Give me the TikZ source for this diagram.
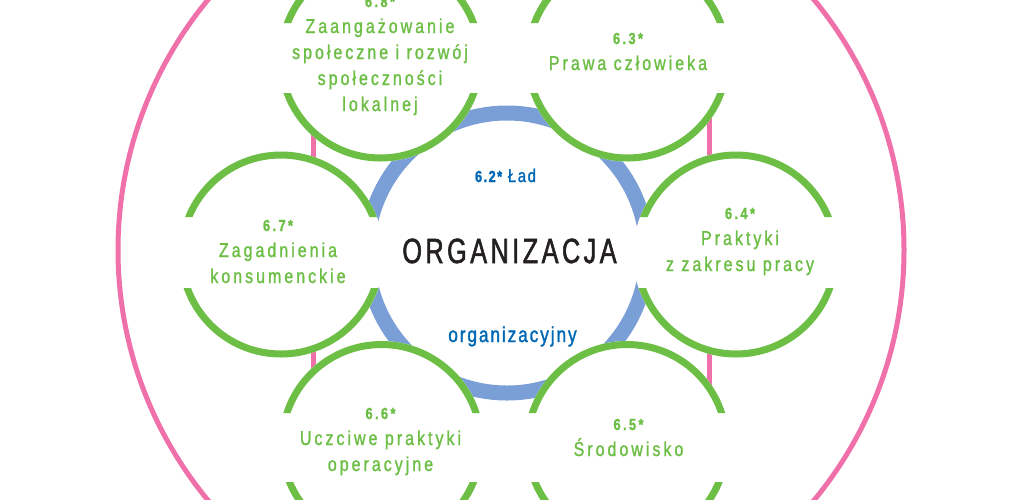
\documentclass[tikz,border=0pt]{standalone}
\usepackage{fontspec}
\setmainfont{Liberation Sans}
\newfontfamily\labelfont[FakeStretch=0.8,LetterSpace=15,FakeBold=1.2]{Liberation Sans}
\newfontfamily\titlefont[FakeStretch=0.72,LetterSpace=10,FakeBold=1.5]{Liberation Sans}
\newfontfamily\ladfont[FakeStretch=0.8,LetterSpace=9,FakeBold=1.5]{Liberation Sans}
\definecolor{isogreen}{RGB}{108,190,69}
\definecolor{isopink}{RGB}{240,112,170}
\definecolor{isoring}{RGB}{122,158,214}
\definecolor{isoblue}{RGB}{0,104,180}
\definecolor{isoblack}{RGB}{35,31,32}
\begin{document}
\begin{tikzpicture}[x=1pt,y=-1pt,
  rim/.style={draw=isogreen,line width=7pt},
  subject/.style={isogreen,align=center,inner sep=0pt,anchor=base,
    font=\labelfont\fontsize{20}{26}\selectfont}]
\useasboundingbox (0,0) rectangle (1024,499);
\clip (0,0) rectangle (1024,499);

% outer ring and uprights
\draw[isopink,line width=5pt] (511,250) circle[radius=393pt];
\draw[isopink,line width=5.5pt] (313.5,58.5) -- (313.5,444);
\draw[isopink,line width=5.5pt] (709.5,58.5) -- (709.5,444);

% organizacja ring
\draw[isoring,line width=15pt] (507,253) circle[radius=140pt];

% white discs
\fill[white] (380.5,58.5) circle[radius=103pt];
\fill[white] (627.5,58.5) circle[radius=103pt];
\fill[white] (281,254.5) circle[radius=103pt];
\fill[white] (736,254.5) circle[radius=103pt];
\fill[white] (381.5,444) circle[radius=103pt];
\fill[white] (627,444) circle[radius=103pt];

% green rims, open at the text band
\begin{scope}
\clip (270,-60) rectangle (750,23) (270,93) rectangle (750,180);
\draw[rim] (380.5,58.5) circle[radius=99.5pt];
\draw[rim] (627.5,58.5) circle[radius=99.5pt];
\end{scope}
\begin{scope}
\clip (170,140) rectangle (850,217) (170,288) rectangle (850,370);
\draw[rim] (281,254.5) circle[radius=99.5pt];
\draw[rim] (736,254.5) circle[radius=99.5pt];
\end{scope}
\begin{scope}
\clip (270,330) rectangle (750,413) (270,482) rectangle (750,560);
\draw[rim] (381.5,444) circle[radius=99.5pt];
\draw[rim] (627,444) circle[radius=99.5pt];
\end{scope}

% subjects
\node[subject] (t68) at (380,111) {{\bfseries\fontsize{16}{26}\selectfont 6.8*}\\Zaangażowanie\\społeczne i rozwój\\społeczności\\lokalnej};
\node[subject] (t63) at (628,70) {{\bfseries\fontsize{16}{26}\selectfont 6.3*}\\Prawa człowieka};
\node[subject] (t67) at (278,283) {{\bfseries\fontsize{16}{26}\selectfont 6.7*}\\Zagadnienia\\konsumenckie};
\node[subject] (t64) at (740,271) {{\bfseries\fontsize{16}{26}\selectfont 6.4*}\\Praktyki\\z zakresu pracy};
\node[subject] (t66) at (380.5,471) {{\bfseries\fontsize{16}{26}\selectfont 6.6*}\\Uczciwe praktyki\\operacyjne};
\node[subject] (t65) at (628.5,456) {{\bfseries\fontsize{16}{26}\selectfont 6.5*}\\Środowisko};

% centre
\node[isoblack,inner sep=0pt,anchor=base,font=\titlefont\fontsize{35}{40}\selectfont] (org) at (509.5,263) {ORGANIZACJA};
\node[isoblue,inner sep=0pt,anchor=base,font=\ladfont\fontsize{18.5}{20}\selectfont] (lad) at (505.5,182) {{\bfseries\fontsize{16}{20}\selectfont 6.2*} Ład};
\node[isoblue,inner sep=0pt,anchor=base,font=\ladfont\fontsize{21.5}{24}\selectfont] (org2) at (512.5,342) {organizacyjny};
\end{tikzpicture}
\end{document}
